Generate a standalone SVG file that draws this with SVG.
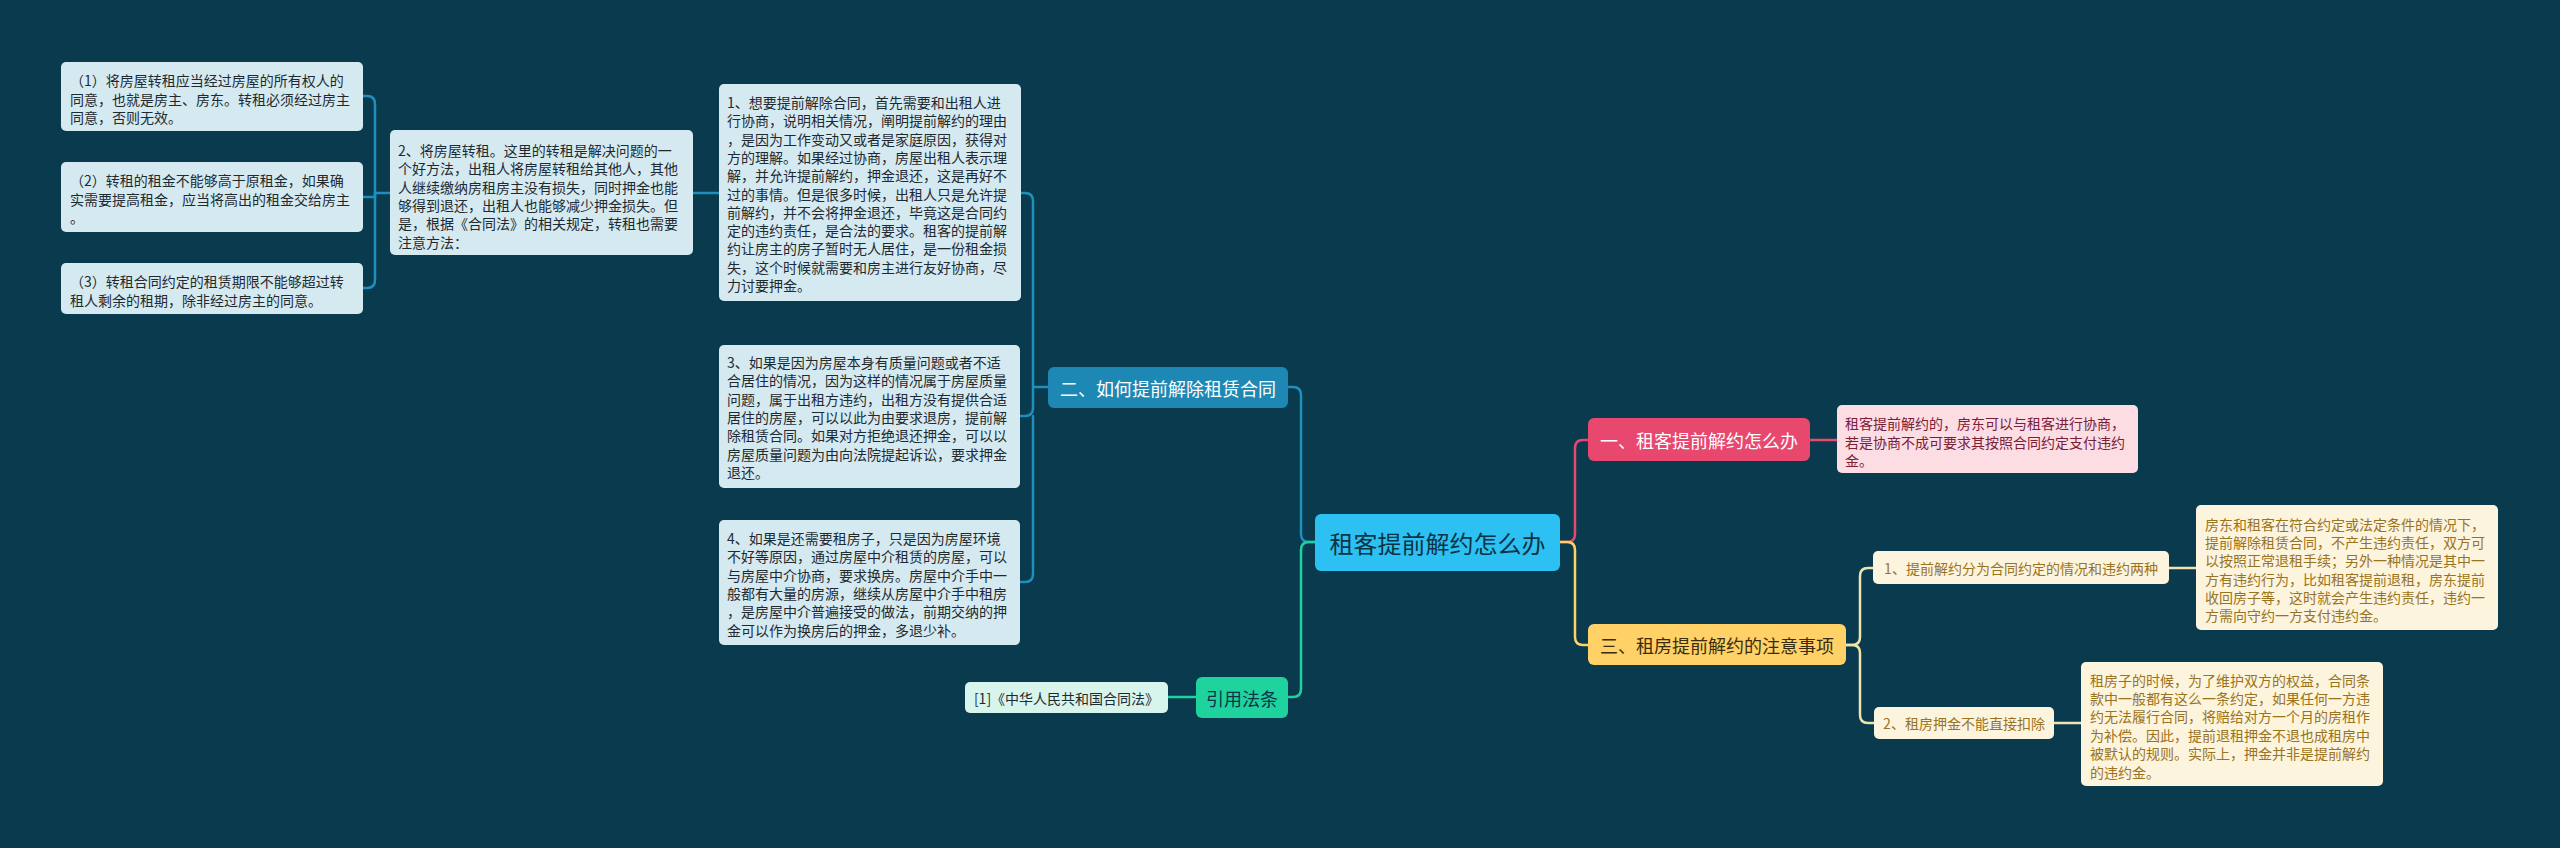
<svg xmlns="http://www.w3.org/2000/svg" width="2560" height="848" viewBox="0 0 2560 848">
<style>
text{font-family:"Noto Sans CJK SC","Noto Sans",sans-serif;dominant-baseline:central}
.s{font-size:14px}
.lb rect{fill:#d5e9f1}
.lb text{fill:#1f2a30}
.cn{fill:none;stroke-width:2.5;stroke-linecap:round}
.blue{stroke:#1f8fbd}
.green{stroke:#1fd19f}
.pink{stroke:#e8476e}
.yel{stroke:#ffd166}
.cream{stroke:#efe3b0}
.cr rect{fill:#fdf4de}
.cr text{fill:#9a7320}
</style>
<rect width="2560" height="848" fill="#0a3a4d"/>
<g id="connectors">
<path class="cn blue" d="M1288,387 H1293 Q1301,387 1301,395 V534 Q1301,542 1309,542 H1315"/>
<path class="cn green" d="M1315,542 H1309 Q1301,542 1301,550 V689 Q1301,697 1293,697 H1288"/>
<path class="cn green" d="M1196,697 H1168"/>
<path class="cn pink" d="M1560,542 H1567 Q1575,542 1575,534 V448 Q1575,440 1583,440 H1588"/>
<path class="cn yel" d="M1560,542 H1567 Q1575,542 1575,550 V637 Q1575,645 1583,645 H1588"/>
<path class="cn pink" d="M1810,440 H1837"/>
<path class="cn cream" d="M1846,645 H1852 Q1860,645 1860,637 V576 Q1860,568 1868,568 H1873"/>
<path class="cn cream" d="M1846,645 H1852 Q1860,645 1860,653 V715 Q1860,723 1868,723 H1874"/>
<path class="cn cream" d="M2169,568 H2196"/>
<path class="cn cream" d="M2054,723 H2081"/>
<path class="cn blue" d="M1048,387 H1033"/>
<path class="cn blue" d="M1033,387 V201 Q1033,193 1025,193 H1021"/>
<path class="cn blue" d="M1033,387 V408 Q1033,416 1025,416 H1020"/>
<path class="cn blue" d="M1033,416 V574 Q1033,582 1025,582 H1020"/>
<path class="cn blue" d="M719,193 H693"/>
<path class="cn blue" d="M390,193 H375"/>
<path class="cn blue" d="M375,193 V104 Q375,96 367,96 H363"/>
<path class="cn blue" d="M375,193 V197 H363"/>
<path class="cn blue" d="M375,193 V280 Q375,288 367,288 H363"/>
</g>
<g id="root">
<rect x="1315" y="514" width="245" height="57" rx="6" fill="#2cc1f2"/>
<text x="1437.5" y="542.5" font-size="24" fill="#0e3345" text-anchor="middle">租客提前解约怎么办</text>
</g>
<g id="n2">
<rect x="1048" y="367" width="240" height="41" rx="6" fill="#1d88b4"/>
<text x="1168" y="387.5" font-size="18" fill="#ffffff" text-anchor="middle">二、如何提前解除租赁合同</text>
</g>
<g id="nref">
<rect x="1196" y="677" width="92" height="41" rx="6" fill="#1fd39f"/>
<text x="1242" y="697.5" font-size="18" fill="#0e3345" text-anchor="middle">引用法条</text>
</g>
<g id="ref1">
<rect x="965" y="682" width="203" height="31" rx="5" fill="#d7f5ec"/>
<text x="1066.5" y="697.5" class="s" fill="#1f2a30" text-anchor="middle">[1]《中华人民共和国合同法》</text>
</g>
<g id="n1">
<rect x="1588" y="418" width="222" height="43" rx="6" fill="#e8476e"/>
<text x="1699" y="439.5" font-size="18" fill="#ffffff" text-anchor="middle">一、租客提前解约怎么办</text>
</g>
<g id="n1a">
<rect x="1837" y="405" width="301" height="68" rx="5" fill="#fcdde4"/>
<text class="s" fill="#7a2036"><tspan x="1845" y="423">租客提前解约的，房东可以与租客进行协商，</tspan><tspan x="1845" y="441.5">若是协商不成可要求其按照合同约定支付违约</tspan><tspan x="1845" y="460">金。</tspan></text>
</g>
<g id="n3">
<rect x="1588" y="624" width="258" height="41" rx="6" fill="#ffd166"/>
<text x="1717" y="644.5" font-size="18" fill="#3a2c0c" text-anchor="middle">三、租房提前解约的注意事项</text>
</g>
<g id="n3a" class="cr">
<rect x="1873" y="551" width="296" height="33" rx="5"/>
<text x="2021" y="567.5" class="s" text-anchor="middle">1、提前解约分为合同约定的情况和违约两种</text>
</g>
<g id="n3a1" class="cr">
<rect x="2196" y="505" width="302" height="125" rx="5"/>
<text class="s"><tspan x="2205" y="524">房东和租客在符合约定或法定条件的情况下，</tspan><tspan x="2205" y="542.2">提前解除租赁合同，不产生违约责任，双方可</tspan><tspan x="2205" y="560.4">以按照正常退租手续；另外一种情况是其中一</tspan><tspan x="2205" y="578.6">方有违约行为，比如租客提前退租，房东提前</tspan><tspan x="2205" y="596.8">收回房子等，这时就会产生违约责任，违约一</tspan><tspan x="2205" y="615">方需向守约一方支付违约金。</tspan></text>
</g>
<g id="n3b" class="cr">
<rect x="1874" y="707" width="180" height="32" rx="5"/>
<text x="1964" y="723" class="s" text-anchor="middle">2、租房押金不能直接扣除</text>
</g>
<g id="n3b1" class="cr">
<rect x="2081" y="662" width="302" height="124" rx="5"/>
<text class="s"><tspan x="2090" y="679.5">租房子的时候，为了维护双方的权益，合同条</tspan><tspan x="2090" y="697.9">款中一般都有这么一条约定，如果任何一方违</tspan><tspan x="2090" y="716.3">约无法履行合同，将赔给对方一个月的房租作</tspan><tspan x="2090" y="734.7">为补偿。因此，提前退租押金不退也成租房中</tspan><tspan x="2090" y="753.1">被默认的规则。实际上，押金并非是提前解约</tspan><tspan x="2090" y="771.5">的违约金。</tspan></text>
</g>
<g id="b1" class="lb">
<rect x="719" y="84" width="302" height="217" rx="5"/>
<text class="s"><tspan x="727" y="102">1、想要提前解除合同，首先需要和出租人进</tspan><tspan x="727" y="120.3">行协商，说明相关情况，阐明提前解约的理由</tspan><tspan x="727" y="138.6">，是因为工作变动又或者是家庭原因，获得对</tspan><tspan x="727" y="156.9">方的理解。如果经过协商，房屋出租人表示理</tspan><tspan x="727" y="175.2">解，并允许提前解约，押金退还，这是再好不</tspan><tspan x="727" y="193.5">过的事情。但是很多时候，出租人只是允许提</tspan><tspan x="727" y="211.8">前解约，并不会将押金退还，毕竟这是合同约</tspan><tspan x="727" y="230.1">定的违约责任，是合法的要求。租客的提前解</tspan><tspan x="727" y="248.4">约让房主的房子暂时无人居住，是一份租金损</tspan><tspan x="727" y="266.7">失，这个时候就需要和房主进行友好协商，尽</tspan><tspan x="727" y="285">力讨要押金。</tspan></text>
</g>
<g id="b2" class="lb">
<rect x="390" y="130" width="303" height="125" rx="5"/>
<text class="s"><tspan x="398" y="150">2、将房屋转租。这里的转租是解决问题的一</tspan><tspan x="398" y="168.3">个好方法，出租人将房屋转租给其他人，其他</tspan><tspan x="398" y="186.6">人继续缴纳房租房主没有损失，同时押金也能</tspan><tspan x="398" y="204.9">够得到退还，出租人也能够减少押金损失。但</tspan><tspan x="398" y="223.2">是，根据《合同法》的相关规定，转租也需要</tspan><tspan x="398" y="241.5">注意方法：</tspan></text>
</g>
<g id="b2a" class="lb">
<rect x="61" y="62" width="302" height="69" rx="5"/>
<text class="s"><tspan x="70" y="80">（1）将房屋转租应当经过房屋的所有权人的</tspan><tspan x="70" y="98.5">同意，也就是房主、房东。转租必须经过房主</tspan><tspan x="70" y="117">同意，否则无效。</tspan></text>
</g>
<g id="b2b" class="lb">
<rect x="61" y="162" width="302" height="70" rx="5"/>
<text class="s"><tspan x="70" y="180">（2）转租的租金不能够高于原租金，如果确</tspan><tspan x="70" y="198.5">实需要提高租金，应当将高出的租金交给房主</tspan><tspan x="70" y="217">。</tspan></text>
</g>
<g id="b2c" class="lb">
<rect x="61" y="263" width="302" height="51" rx="5"/>
<text class="s"><tspan x="70" y="281">（3）转租合同约定的租赁期限不能够超过转</tspan><tspan x="70" y="299.5">租人剩余的租期，除非经过房主的同意。</tspan></text>
</g>
<g id="b3" class="lb">
<rect x="719" y="345" width="301" height="143" rx="5"/>
<text class="s"><tspan x="727" y="362">3、如果是因为房屋本身有质量问题或者不适</tspan><tspan x="727" y="380.3">合居住的情况，因为这样的情况属于房屋质量</tspan><tspan x="727" y="398.6">问题，属于出租方违约，出租方没有提供合适</tspan><tspan x="727" y="416.9">居住的房屋，可以以此为由要求退房，提前解</tspan><tspan x="727" y="435.2">除租赁合同。如果对方拒绝退还押金，可以以</tspan><tspan x="727" y="453.5">房屋质量问题为由向法院提起诉讼，要求押金</tspan><tspan x="727" y="471.8">退还。</tspan></text>
</g>
<g id="b4" class="lb">
<rect x="719" y="520" width="301" height="125" rx="5"/>
<text class="s"><tspan x="727" y="538">4、如果是还需要租房子，只是因为房屋环境</tspan><tspan x="727" y="556.3">不好等原因，通过房屋中介租赁的房屋，可以</tspan><tspan x="727" y="574.6">与房屋中介协商，要求换房。房屋中介手中一</tspan><tspan x="727" y="592.9">般都有大量的房源，继续从房屋中介手中租房</tspan><tspan x="727" y="611.2">，是房屋中介普遍接受的做法，前期交纳的押</tspan><tspan x="727" y="629.5">金可以作为换房后的押金，多退少补。</tspan></text>
</g>
</svg>
